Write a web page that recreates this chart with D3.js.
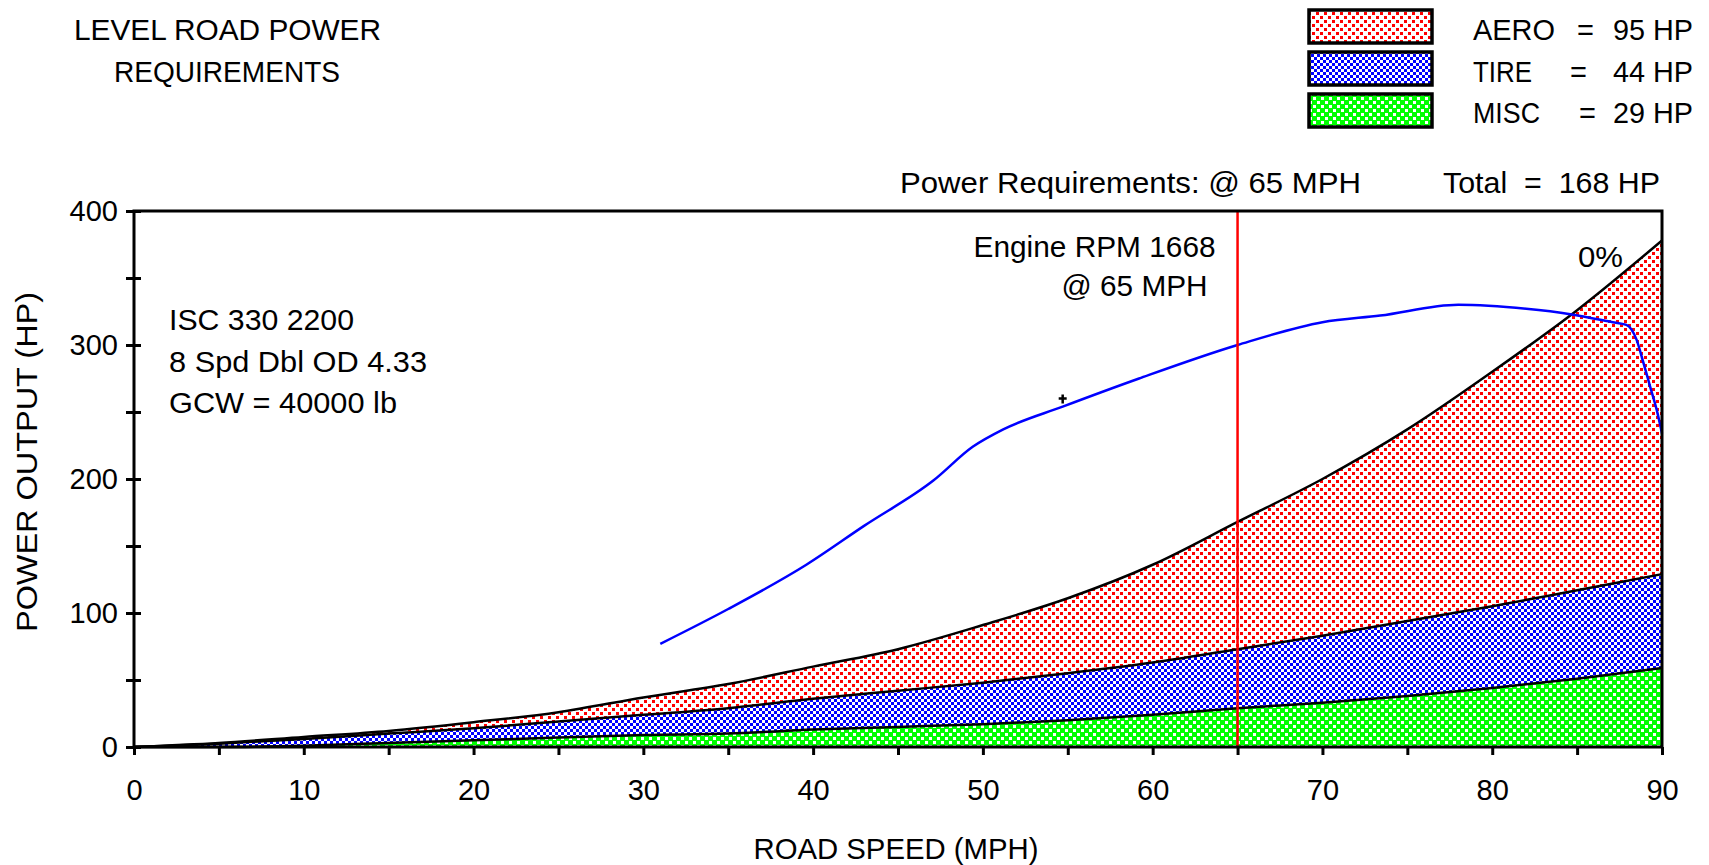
<!DOCTYPE html>
<html>
<head>
<meta charset="utf-8">
<script src="https://cdn.jsdelivr.net/npm/d3@7"></script>
<style>
  body { margin: 0; background: #fff; }
  text { font-family: "Liberation Sans", Arial, sans-serif; font-size: 29px; fill: #000; white-space: pre; }
</style>
</head>
<body>
<div id="chart"></div>
<script>
// road speed (mph) and the stacked power loads (hp)
var speeds = [0, 5, 10, 15, 20, 25, 30, 35, 40, 45, 50, 55, 60, 65, 70, 75, 80, 85, 90];
var miscHp = [0, 0, 1, 3, 5, 7, 9, 10, 13, 15, 17, 20, 24, 29, 33, 38, 44, 51, 59];
var tireHp = [0, 2.5, 5, 7, 9, 12, 15, 19, 23, 27, 31, 35, 39, 44, 50, 56, 61, 66, 70];
var aeroHp = [0, 0.5, 1.5, 2, 4.5, 7, 13, 18, 24, 31, 43, 56, 73, 95, 117, 143, 175, 209, 249];

// engine power available curve
var engineMph = [31, 35, 39.6, 43, 47.1, 49.4, 51.2, 54.7, 59.2, 65, 70, 73.4, 78, 82, 84.6, 87.1, 87.9, 88.5, 88.9, 89.3, 89.7, 90];
var engineHp = [77, 103, 136, 165, 199, 224, 237, 254, 275, 300, 317, 322, 330, 327, 323, 317, 315, 304, 287, 269, 251, 234];

var cursorPt = [54.7, 260];
var refSpeed = 65;
var engineRpm = 1668;

var xTicks = d3.range(0, 91, 5);
var yTicks = d3.range(0, 401, 50);

var width = 1709, height = 865;
var plotL = 134, plotR = 1662, plotT = 211, plotB = 747;

var svg = d3.select('#chart').append('svg')
    .attr('width', width)
    .attr('height', height);

var x = d3.scaleLinear().domain([0, 90]).range([plotL, plotR]);
var y = d3.scaleLinear().domain([0, 400]).range([plotB, plotT]);

// fill patterns
var defs = svg.append('defs');
function pattern(id, w, bg, fg, squares, s) {
    var p = defs.append('pattern').attr('id', id)
        .attr('patternUnits', 'userSpaceOnUse')
        .attr('width', w).attr('height', w);
    p.append('rect').attr('width', w).attr('height', w).attr('fill', bg);
    squares.forEach(function (q) {
        p.append('rect').attr('x', q[0]).attr('y', q[1])
            .attr('width', s).attr('height', s).attr('fill', fg)
            .attr('shape-rendering', 'crispEdges');
    });
}
pattern('pAero', 8, '#fff', '#ff0000', [[0, 0], [4, 4]], 2.8);
pattern('pTire', 6, '#0000ff', '#fff', [[0, 0], [3, 3]], 2.6);
pattern('pMisc', 8, '#00ff00', '#fff', [[1, 1], [5, 5]], 2.8);

var keys = ['misc', 'tire', 'aero'];
var fills = { misc: 'url(#pMisc)', tire: 'url(#pTire)', aero: 'url(#pAero)' };

var rows = speeds.map(function (s, i) {
    return { speed: s, misc: miscHp[i], tire: tireHp[i], aero: aeroHp[i] };
});
var series = d3.stack().keys(keys)(rows);

var area = d3.area()
    .x(function (d) { return x(d.data.speed); })
    .y0(function (d) { return y(d[0]); })
    .y1(function (d) { return y(d[1]); })
    .curve(d3.curveMonotoneX);

var topLine = d3.line()
    .x(function (d) { return x(d.data.speed); })
    .y(function (d) { return y(d[1]); })
    .curve(d3.curveMonotoneX);

var plot = svg.append('g');
plot.selectAll('.layer')
    .data(series)
    .enter().append('path')
    .attr('class', 'layer')
    .attr('d', area)
    .attr('fill', function (d) { return fills[d.key]; });

plot.selectAll('.edge')
    .data(series)
    .enter().append('path')
    .attr('class', 'edge')
    .attr('d', topLine)
    .attr('fill', 'none')
    .attr('stroke', '#000')
    .attr('stroke-width', 2.5);

// engine curve
var engLine = d3.line()
    .x(function (d) { return x(d[0]); })
    .y(function (d) { return y(d[1]); })
    .curve(d3.curveMonotoneX);
plot.append('path')
    .datum(engineMph.map(function (m, i) { return [m, engineHp[i]]; }))
    .attr('d', engLine)
    .attr('fill', 'none')
    .attr('stroke', '#0000ff')
    .attr('stroke-width', 2.5);

// small cursor mark
var cx = x(cursorPt[0]), cy = y(cursorPt[1]);
plot.append('path')
    .attr('d', 'M' + (cx - 4) + ',' + cy + 'H' + (cx + 4) + 'M' + cx + ',' + (cy - 4) + 'V' + (cy + 5))
    .attr('stroke', '#000').attr('stroke-width', 2.5);

// reference speed line
plot.append('line')
    .attr('x1', x(refSpeed)).attr('x2', x(refSpeed))
    .attr('y1', plotT).attr('y2', plotB)
    .attr('stroke', '#ff0000').attr('stroke-width', 2.5);

// frame
svg.append('rect')
    .attr('x', plotL).attr('y', plotT)
    .attr('width', plotR - plotL).attr('height', plotB - plotT)
    .attr('fill', 'none').attr('stroke', '#000').attr('stroke-width', 3);

// axes
function styleAxis(g) {
    g.select('.domain').remove();
    g.selectAll('line').attr('stroke', '#000').attr('stroke-width', 3);
    g.selectAll('text')
        .style('font-family', '"Liberation Sans", Arial, sans-serif')
        .style('font-size', '29px')
        .attr('fill', '#000');
}
svg.append('g')
    .attr('transform', 'translate(' + plotL + ',0)')
    .call(d3.axisLeft(y).tickValues(yTicks).tickSize(8).tickPadding(8)
        .tickFormat(function (d) { return d % 100 === 0 ? d : ''; }))
    .call(styleAxis);
svg.append('g')
    .attr('transform', 'translate(' + plotL + ',0)')
    .call(d3.axisRight(y).tickValues(yTicks).tickSize(7).tickFormat(''))
    .call(styleAxis);
svg.append('g')
    .attr('transform', 'translate(0,' + plotB + ')')
    .call(d3.axisBottom(x).tickValues(xTicks).tickSize(8).tickPadding(24)
        .tickFormat(function (d) { return d % 10 === 0 ? d : ''; }))
    .call(styleAxis);

// texts
function label(px, py, str, len, anchor) {
    var t = svg.append('text')
        .attr('x', px).attr('y', py)
        .attr('text-anchor', anchor || 'start')
        .text(str);
    if (len) t.attr('textLength', len).attr('lengthAdjust', 'spacingAndGlyphs');
    return t;
}

label(74, 40, 'LEVEL ROAD POWER', 307);
label(114, 82, 'REQUIREMENTS', 226);

var i65 = speeds.indexOf(refSpeed);
var legendRows = [
    { name: 'AERO', key: 'aero', val: aeroHp[i65], eq: 1577, y: 40, len: 82 },
    { name: 'TIRE', key: 'tire', val: tireHp[i65], eq: 1570, y: 82, len: 59 },
    { name: 'MISC', key: 'misc', val: miscHp[i65], eq: 1579, y: 123, len: 67 }
];
legendRows.forEach(function (r, i) {
    svg.append('rect')
        .attr('x', 1309).attr('y', 10 + i * 42)
        .attr('width', 123).attr('height', 33)
        .attr('fill', fills[r.key])
        .attr('stroke', '#000').attr('stroke-width', 3.5);
    label(1473, r.y, r.name, r.len);
    label(r.eq, r.y, '=');
    label(1693, r.y, r.val + ' HP', 80, 'end');
});

var total = aeroHp[i65] + tireHp[i65] + miscHp[i65];
label(900, 193, 'Power Requirements: @ ' + refSpeed + ' MPH', 461);
label(1443, 193, 'Total  =  ' + total + ' HP', 217);

label(x(refSpeed) - 22, 257, 'Engine RPM ' + engineRpm, 242, 'end');
label(x(refSpeed) - 30, 296, '@ ' + refSpeed + ' MPH', 146, 'end');
label(1578, 267, '0%', 45);

label(169, 330, 'ISC 330 2200', 185);
label(169, 372, '8 Spd Dbl OD 4.33', 258);
label(169, 413, 'GCW = 40000 lb', 228);

label(896, 859, 'ROAD SPEED (MPH)', 285, 'middle');
svg.append('text')
    .attr('transform', 'translate(37,462) rotate(-90)')
    .attr('text-anchor', 'middle')
    .attr('textLength', 340).attr('lengthAdjust', 'spacingAndGlyphs')
    .text('POWER OUTPUT (HP)');
</script>
</body>
</html>
